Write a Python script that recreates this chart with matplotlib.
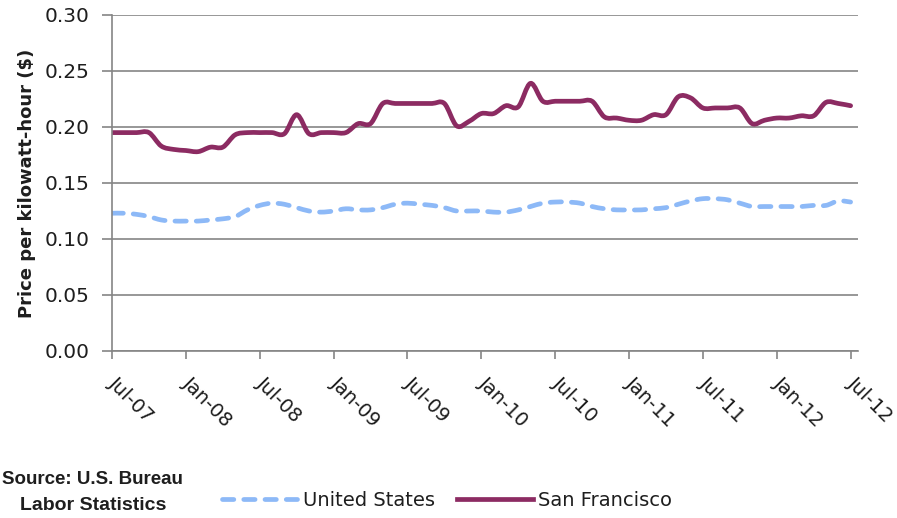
import matplotlib
matplotlib.use("Agg")
import matplotlib.pyplot as plt
import matplotlib.transforms as mtransforms
from matplotlib.path import Path
from matplotlib.patches import PathPatch
from matplotlib.lines import Line2D
import numpy as np

# monthly prices, Jul-07 .. Jul-12 ($ per kWh)
sf_price = [0.195, 0.195, 0.195, 0.195, 0.183, 0.180, 0.179, 0.178, 0.182, 0.182,
            0.193, 0.195, 0.195, 0.195, 0.194, 0.211, 0.194, 0.195, 0.195, 0.195,
            0.203, 0.203, 0.221, 0.221, 0.221, 0.221, 0.221, 0.221, 0.201, 0.205,
            0.212, 0.212, 0.219, 0.218, 0.239, 0.223, 0.223, 0.223, 0.223, 0.223,
            0.209, 0.208, 0.206, 0.206, 0.211, 0.211, 0.227, 0.226, 0.217, 0.217,
            0.217, 0.217, 0.203, 0.206, 0.208, 0.208, 0.210, 0.210, 0.222, 0.221,
            0.219]
us_price = [0.123, 0.123, 0.122, 0.120, 0.117, 0.116, 0.116, 0.116, 0.117, 0.118,
            0.120, 0.126, 0.130, 0.132, 0.131, 0.128, 0.125, 0.124, 0.125, 0.127,
            0.126, 0.126, 0.128, 0.131, 0.132, 0.131, 0.130, 0.128, 0.125, 0.125,
            0.125, 0.124, 0.124, 0.126, 0.129, 0.132, 0.133, 0.133, 0.132, 0.129,
            0.127, 0.126, 0.126, 0.126, 0.127, 0.128, 0.131, 0.134, 0.136, 0.136,
            0.135, 0.132, 0.129, 0.129, 0.129, 0.129, 0.129, 0.130, 0.130, 0.134,
            0.133]
tick_labels = ["Jul-07", "Jan-08", "Jul-08", "Jan-09", "Jul-09", "Jan-10",
               "Jul-10", "Jan-11", "Jul-11", "Jan-12", "Jul-12"]
y_ticks = [0.00, 0.05, 0.10, 0.15, 0.20, 0.25, 0.30]

sf_color = "#8C2B62"
us_color = "#8DB9F7"
grid_color = "#858585"
text_color = "#1e1e1e"
us_dash = (0, (2.4, 2.1))


def smooth_path(xs, ys):
    # excel style smoothed line: catmull-rom segments as cubic beziers
    pts = np.column_stack([xs, ys])
    ext = np.vstack([pts[0], pts, pts[-1]])
    verts = [pts[0]]
    codes = [Path.MOVETO]
    for i in range(len(pts) - 1):
        p0, p1, p2, p3 = ext[i], ext[i + 1], ext[i + 2], ext[i + 3]
        verts += [p1 + (p2 - p0) / 6, p2 - (p3 - p1) / 6, p2]
        codes += [Path.CURVE4] * 3
    return Path(verts, codes)


months = np.arange(len(sf_price))

fig = plt.figure(figsize=(8.97, 5.18), dpi=100)
ax = fig.add_axes([112 / 897, 1 - 351 / 518, (858 - 112) / 897, (351 - 15) / 518])

ax.add_patch(PathPatch(smooth_path(months, us_price), fill=False, edgecolor=us_color,
                       linewidth=3.4, linestyle=us_dash, capstyle="round",
                       joinstyle="round"))
ax.add_patch(PathPatch(smooth_path(months, sf_price), fill=False, edgecolor=sf_color,
                       linewidth=3.4, capstyle="round", joinstyle="round"))

ax.set_xlim(0, 60.6)
ax.set_ylim(0, 0.30)
ax.set_yticks(y_ticks)
ax.set_yticklabels(["%.2f" % v for v in y_ticks], fontsize=14.5, color=text_color)
ax.set_xticks(np.arange(0, 61, 6))
ax.set_xticklabels(tick_labels, fontsize=14, rotation=-45, ha="left",
                   rotation_mode="anchor", va="center", color=text_color)
shift = mtransforms.ScaledTranslation(6 / 100, 0, fig.dpi_scale_trans)
for lab in ax.get_xticklabels():
    lab.set_transform(lab.get_transform() + shift)
ax.tick_params(axis="y", direction="out", length=7, width=1.2, color=grid_color, pad=9)
ax.tick_params(axis="x", direction="out", length=6, width=1.2, color=grid_color, pad=15)

ax.yaxis.grid(True, color=grid_color, linewidth=1.2)
ax.set_axisbelow(True)
for side in ["top", "right"]:
    ax.spines[side].set_visible(False)
for side in ["left", "bottom"]:
    ax.spines[side].set_color(grid_color)
    ax.spines[side].set_linewidth(1.2)

ax.set_ylabel("Price per kilowatt-hour ($)", fontsize=13, fontweight="bold",
              color=text_color, labelpad=6)

fig.text(2 / 897, 1 - 480 / 518, "Source: U.S. Bureau", fontsize=13.5,
         fontweight="bold", family="Liberation Sans", va="center", ha="left",
         color=text_color)
fig.text(20 / 897, 1 - 505 / 518, "Labor Statistics", fontsize=14,
         fontweight="bold", family="Liberation Sans", va="center", ha="left",
         color=text_color)

handles = [Line2D([], [], color=us_color, linewidth=3.4, linestyle=us_dash,
                  dash_capstyle="round"),
           Line2D([], [], color=sf_color, linewidth=3.4)]
fig.legend(handles, ["United States", "San Francisco"], loc="center",
           bbox_to_anchor=(447 / 897, 1 - 500 / 518), ncol=2, frameon=False,
           fontsize=14, handlelength=3.9, handletextpad=0.3, columnspacing=1.1,
           labelcolor=text_color)

fig.savefig("out.png", dpi=100)
